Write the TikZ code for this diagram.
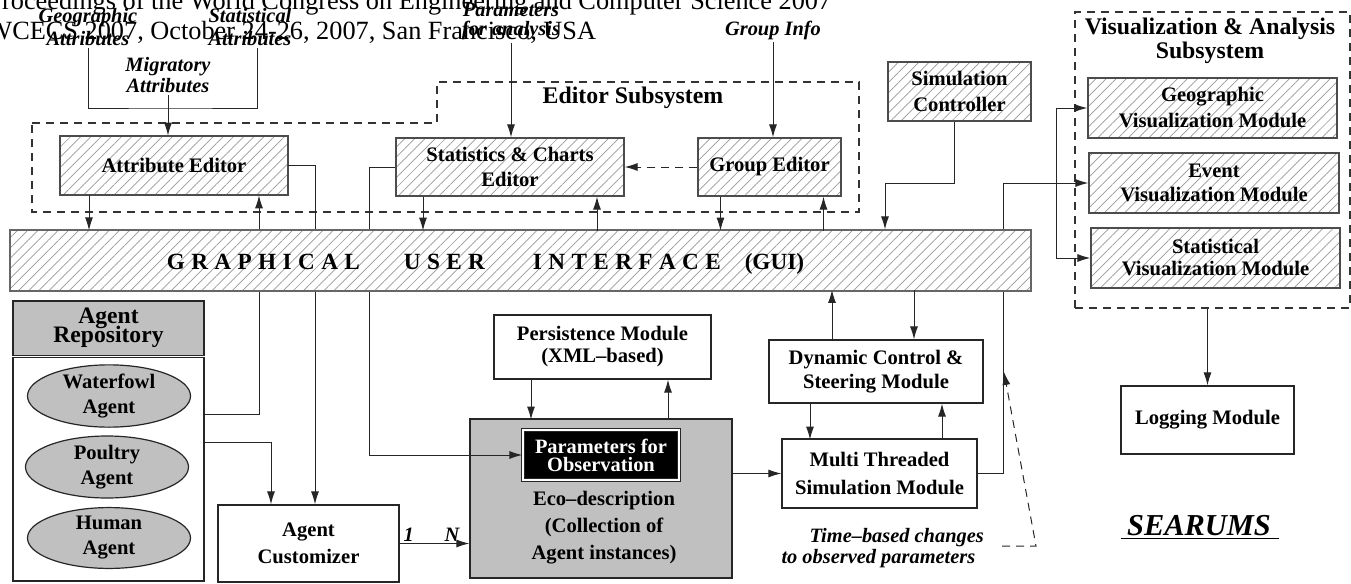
\documentclass[tikz,border=0pt]{standalone}
\usepackage{fontspec}
\setmainfont{Liberation Serif}
\usepackage{xcolor}
\usepackage{tikz}
\usetikzlibrary{shapes.geometric,arrows.meta,patterns.meta}

\definecolor{agentgray}{RGB}{192,192,192}
\newcommand{\fsz}[2]{\fontsize{#1}{#2}\selectfont}
\newcommand{\tight}{\lineskiplimit=-20pt\lineskip=0pt\relax}
\newcommand{\gl}{\hspace{3.2pt}}

\begin{document}
\begin{tikzpicture}[
        x=0.5pt, y=-0.5pt,
        line width=0.5pt,
        box/.style={rectangle, draw=black!85, line width=0.6pt, inner sep=1pt, align=center, font=\bfseries\fsz{10.3}{12.5}},
        plainbox/.style={box, fill=white},
        hatchbox/.style={box, draw=black!70, preaction={fill=white}, pattern={Lines[angle=45,distance=3.6pt,line width=0.35pt]}, pattern color=black!40},
        agent/.style={ellipse, draw=black!85, line width=0.6pt, fill=agentgray, inner sep=0pt, minimum width=81.5pt, minimum height=30pt, align=center, font=\bfseries\fsz{10.3}{12.5}},
        inlabel/.style={align=center, inner sep=1pt, font=\bfseries\itshape\fsz{10.2}{11}},
        grouptitle/.style={align=center, inner sep=0pt, font=\bfseries\fsz{11.9}{12}},
        subsys/.style={draw=black!80, dash pattern=on 4pt off 3pt, line width=0.6pt},
        link/.style={draw=black!85},
        arrow/.style={link, -{Latex[length=6.5pt,width=4pt]}},
        backarrow/.style={link, {Latex[length=6.5pt,width=4pt]}-},
        dasharrow/.style={arrow, dash pattern=on 4pt off 3pt}
    ]
    \useasboundingbox (0,0) rectangle (1351,584);

    % page header
    \node[anchor=base west, inner sep=0pt, font=\fsz{13.15}{15}] (hdrone) at (-13,9) {Proceedings of the World Congress on Engineering and Computer Science 2007};
    \node[anchor=base west, inner sep=0pt, font=\fsz{13.15}{15}] (hdrtwo) at (-13,39) {WCECS 2007, October 24-26, 2007, San Francisco, USA};

    % inputs
    \node[inlabel, font=\bfseries\itshape\fsz{10.2}{11.5}] (geoattr) at (88,27) {Geographic\\Attributes};
    \node[inlabel, font=\bfseries\itshape\fsz{10.2}{11.5}] (statattr) at (250,27) {Statistical\\Attributes};
    \node[inlabel, font=\bfseries\itshape\fsz{10.2}{10.8}] (migattr) at (168,75) {Migratory\\Attributes};
    \node[inlabel, font=\bfseries\itshape\fsz{10.2}{9.5}\tight] (anaparam) at (511,22) {Parameters\\for analysis};
    \node[inlabel] (groupinfo) at (773,30) {Group Info};
    \coordinate (migjoin) at (168,108);

    % editor subsystem
    \draw[subsys] (32,123) -- (437,123) -- (437,82) -- (859,82) -- (859,212) -- (32,212) -- cycle;
    \node[grouptitle] (edtitle) at (633,98) {Editor Subsystem};
    \node[hatchbox, minimum width=114pt, minimum height=29.5pt] (attred) at (174,165.5) {Attribute Editor};
    \node[hatchbox, minimum width=114pt, minimum height=29pt] (statsed) at (510,167) {Statistics \& Charts\\Editor};
    \node[hatchbox, minimum width=71.5pt, minimum height=29pt] (grouped) at (769.5,167) {Group Editor};
    \node[hatchbox, minimum width=71.5pt, minimum height=29.5pt, font=\bfseries\fsz{10.3}{12.8}] (simctrl) at (959.5,91.5) {Simulation\\Controller};

    % visualization subsystem
    \node[subsys, minimum width=137.5pt, minimum height=148pt, inner sep=0pt] (visgroup) at (1212.5,160) {};
    \node[grouptitle] (vistitle) at (1210,41) {Visualization \& Analysis\\Subsystem};
    \node[hatchbox, minimum width=124.5pt, minimum height=30pt, font=\bfseries\fsz{10.3}{13}] (geovis) at (1212.5,108) {Geographic\\Visualization Module};
    \node[hatchbox, minimum width=125pt, minimum height=30pt, font=\bfseries\fsz{10.3}{11.7}] (eventvis) at (1214,183) {Event\\Visualization Module};
    \node[hatchbox, minimum width=124.5pt, minimum height=30pt, font=\bfseries\fsz{10.3}{11}] (statvis) at (1215.5,258) {Statistical\\Visualization Module};
    \node[plainbox, minimum width=86.5pt, minimum height=34pt] (logging) at (1207.5,420) {Logging Module};
    \node[anchor=base, inner sep=0pt, font=\bfseries\itshape\fsz{15.2}{16}] (searums) at (1200,535) {\underline{\hspace{3pt}SEARUMS\hspace{4pt}}};

    % agent repository
    \node[box, fill=agentgray, minimum width=95.5pt, minimum height=27.25pt, font=\bfseries\fsz{11.8}{9.5}\tight] (repohead) at (108.5,328.25) {Agent\\Repository};
    \node[plainbox, minimum width=95.5pt, minimum height=111.75pt] (repobody) at (108.5,469.25) {};
    \node[agent] (waterfowl) at (109,396) {Waterfowl\\Agent};
    \node[agent] (poultry) at (107,467) {Poultry\\Agent};
    \node[agent] (human) at (109,538) {Human\\Agent};

    % simulation side
    \node[plainbox, minimum width=90.5pt, minimum height=38.5pt, font=\bfseries\fsz{10.3}{13.3}] (agentcust) at (308.5,543.5) {Agent\\Customizer};
    \node[plainbox, minimum width=108.5pt, minimum height=32pt, font=\bfseries\fsz{10.3}{11}] (persist) at (602.5,347) {Persistence Module\\(XML--based)};
    \node[box, fill=agentgray, minimum width=131pt, minimum height=79.5pt] (eco) at (601,498.5) {};
    \node[align=center, inner sep=0pt, font=\bfseries\fsz{10.3}{13.5}] (ecotext) at (604,528) {Eco--description\\(Collection of\\Agent instances)};
    \node[box, fill=black, text=white, double=white, double distance=0.7pt, minimum width=78pt, minimum height=25pt, font=\bfseries\fsz{10.2}{9}\tight] (obsparam) at (601,455) {Parameters for\\Observation};
    \node[plainbox, minimum width=107pt, minimum height=31.5pt, font=\bfseries\fsz{10.3}{12}] (dynamic) at (876,371.5) {Dynamic Control \&\\Steering Module};
    \node[plainbox, minimum width=97.5pt, minimum height=34.5pt, font=\bfseries\fsz{10.3}{14}] (multi) at (879.5,473.5) {Multi Threaded\\Simulation Module};
    \node[inlabel, align=left, anchor=west, font=\bfseries\itshape\fsz{10.2}{10.3}] (timechg) at (779,548) {\hspace*{14pt}Time--based changes\\to observed parameters};

    % lines running under the GUI bar
    \draw[arrow] (attred.east) -| ([xshift=3.25pt]agentcust.north);
    \draw[arrow] (statsed.west) -- ++(-26,0) |- (obsparam.west);
    \draw[arrow] ([yshift=27.5pt]repobody.east) -| ([xshift=42.5pt]attred.south);
    \draw[arrow] (multi.east) -- ++(26,0) |- (eventvis.west);

    % GUI bar
    \node[hatchbox, draw=black!60, minimum width=510.5pt, minimum height=30.5pt] (gui) at (520.5,260.5) {};
    \node[anchor=base, inner sep=0pt, font=\bfseries\fsz{11.6}{12}] (guilabel) at (485.5,269.3) {G\gl R\gl A\gl P\gl H\gl I\gl C\gl A\gl L\hspace{22pt}U\gl S\gl E\gl R\hspace{24pt}I\gl N\gl T\gl E\gl R\gl F\gl A\gl C\gl E\hspace{12pt}(GUI)};

    % inputs to editors
    \draw[link] (geoattr.south) |- (migjoin) -| ([xshift=3.5pt]statattr.south);
    \draw[arrow] (migattr.south) -- (migattr.south |- attred.north);
    \draw[arrow] (anaparam.south) -- (anaparam.south |- statsed.north);
    \draw[arrow] (groupinfo.south) -- (groupinfo.south |- grouped.north);

    % editors and GUI
    \draw[arrow] ([xshift=-42.5pt]attred.south) -- ++(0,35);
    \draw[arrow] ([xshift=-43.5pt]statsed.south) -- ++(0,34);
    \draw[backarrow] ([xshift=43.5pt]statsed.south) -- ++(0,34);
    \draw[arrow] ([xshift=-24.5pt]grouped.south) -- ++(0,34);
    \draw[backarrow] ([xshift=27pt]grouped.south) -- ++(0,34);
    \draw[dasharrow] (grouped.west) -- (statsed.east);
    \draw[arrow] ([xshift=-2.75pt]simctrl.south) -- ++(0,61.5) -| ([xshift=182.25pt]gui.north);

    % repository and customizer
    \draw[arrow] ([yshift=13.5pt]repobody.east) -| ([xshift=-18.75pt]agentcust.north);
    \draw[arrow] (agentcust.east) -- (agentcust.east -| eco.west)
        node[inlabel, pos=0.13, above] {1} node[inlabel, pos=0.75, above] {N};

    % persistence and simulation
    \draw[arrow] ([xshift=-35.75pt]persist.south) -- ++(0,40);
    \draw[backarrow] ([xshift=32.75pt]persist.south) -- ++(0,40);
    \draw[arrow] ([yshift=12.5pt]eco.east) -- (multi.west);
    \draw[arrow] ([xshift=-22pt]dynamic.north) -- ++(0,-49.5);
    \draw[backarrow] ([xshift=19pt]dynamic.north) -- ++(0,-49.5);
    \draw[arrow] ([xshift=-33pt]dynamic.south) -- ++(0,36);
    \draw[backarrow] ([xshift=33pt]dynamic.south) -- ++(0,36);

    % visualization
    \coordinate (visfork) at ([xshift=-16pt]eventvis.west);
    \draw[arrow] (visfork) |- (geovis.west);
    \draw[arrow] (visfork) |- (statvis.west);
    \draw[arrow] (visgroup.south -| logging.north) -- (logging.north);

    % time-based changes
    \coordinate (tcstart) at (1002,546);
    \coordinate (tcbend) at (1036,546);
    \coordinate (tctip) at (1004,372);
    \draw[dasharrow] (tcstart) -- (tcbend) -- (tctip);
\end{tikzpicture}
\end{document}
